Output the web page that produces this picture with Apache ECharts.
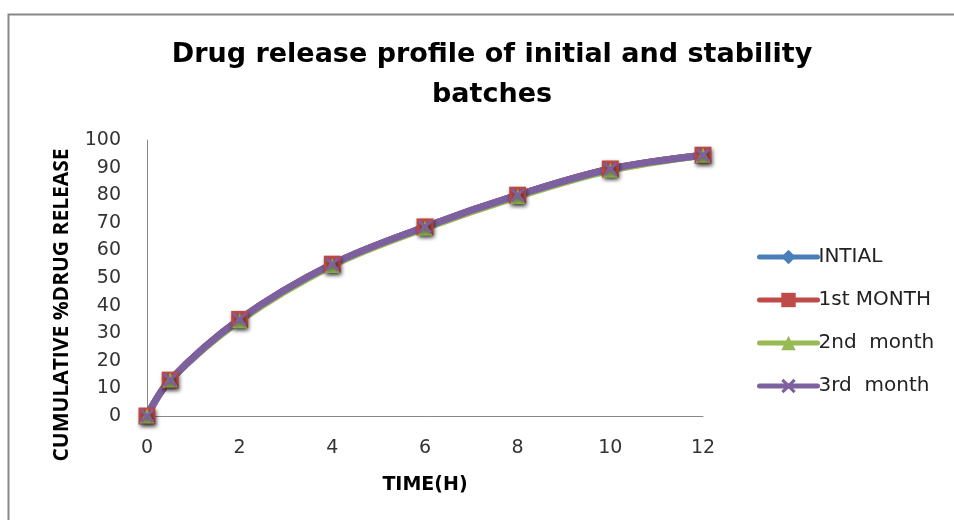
<!DOCTYPE html>
<html>
<head>
<meta charset="utf-8">
<script src="https://cdn.jsdelivr.net/npm/echarts@6/dist/echarts.min.js"></script>
<style>html,body{margin:0;padding:0;background:#fff}#c{width:954px;height:520px}</style>
</head>
<body>
<div id="c"></div>
<script>
var timeH = [0, 0.5, 2, 4, 6, 8, 10, 12];
var initial = [0, 13, 35, 55, 68.5, 80, 89.5, 94.5];
var month1 = [0, 13, 35, 55, 68.5, 80, 89.5, 94.5];
var month2 = [0, 13, 34.5, 54.5, 68, 79.5, 89, 94.5];
var month3 = [0, 13, 35, 55, 68.5, 80, 89.5, 94.5];
var seriesNames = ['INTIAL', '1st MONTH', '2nd  month', '3rd  month'];

function pairs(ys) { return timeH.map(function (t, i) { return [t, ys[i]]; }); }

var xMark = 'path://M0,1.5 L1.5,0 L5,3.5 L8.5,0 L10,1.5 L6.5,5 L10,8.5 L8.5,10 L5,6.5 L1.5,10 L0,8.5 L3.5,5 Z';
var shadow = {shadowColor: 'rgba(0,0,0,0.45)', shadowBlur: 4, shadowOffsetX: 1, shadowOffsetY: 2};

function mk(name, ys, color, symbol, size) {
  return {
    name: name, type: 'line', data: pairs(ys), smooth: 0.35,
    symbol: symbol, symbolSize: size, showAllSymbol: true,
    lineStyle: {color: color, width: 7, cap: 'round'},
    itemStyle: Object.assign({color: color}, shadow),
    emphasis: {disabled: true}
  };
}

var chart = echarts.init(document.getElementById('c'));
chart.setOption({
  animation: false,
  backgroundColor: '#fff',
  title: {
    text: 'Drug release profile of initial and stability\nbatches',
    left: 487, top: 30, textAlign: 'center',
    textStyle: {fontFamily: 'DejaVu Sans', fontWeight: 'bold', fontSize: 27, lineHeight: 40, color: '#000'}
  },
  legend: {
    orient: 'vertical', left: 752, top: 242, itemGap: 23,
    itemWidth: 58, itemHeight: 18,
    lineStyle: {width: 5},
    textStyle: {fontFamily: 'DejaVu Sans', fontSize: 20, color: '#222', padding: [0, 0, 0, -4]},
    data: seriesNames
  },
  grid: {left: 147, right: 251, top: 140, bottom: 104, containLabel: false},
  xAxis: {
    type: 'value', min: 0, max: 12, interval: 2,
    name: 'TIME(H)', nameLocation: 'middle', nameGap: 60,
    nameTextStyle: {fontFamily: 'DejaVu Sans', fontWeight: 'bold', fontSize: 19, color: '#000'},
    axisLine: {show: true, lineStyle: {color: '#888', width: 1}},
    axisTick: {show: false}, splitLine: {show: false},
    axisLabel: {fontFamily: 'DejaVu Sans', fontSize: 19, color: '#333', margin: 23}
  },
  yAxis: {
    type: 'value', min: 0, max: 100, interval: 10,
    name: 'CUMULATIVE %DRUG RELEASE', nameLocation: 'middle', nameGap: 74,
    nameTextStyle: {fontFamily: 'Open Sans', fontWeight: 'bold', fontSize: 21, color: '#000', padding: [0, 54, 0, 0]},
    axisLine: {show: true, lineStyle: {color: '#888', width: 1}},
    axisTick: {show: false}, splitLine: {show: false},
    axisLabel: {fontFamily: 'DejaVu Sans', fontSize: 19, color: '#333', margin: 26}
  },
  graphic: [{
    type: 'rect', left: 6, top: 12, z: -10, silent: true,
    shape: {width: 960, height: 520},
    style: {fill: 'none', stroke: '#888', lineWidth: 2}
  }],
  series: [
    mk(seriesNames[0], initial, '#4a7ebb', 'diamond', 15),
    mk(seriesNames[1], month1, '#be4b48', 'rect', 17),
    mk(seriesNames[2], month2, '#98b954', 'triangle', 15),
    mk(seriesNames[3], month3, '#7d60a0', xMark, 14)
  ]
});
</script>
</body>
</html>
